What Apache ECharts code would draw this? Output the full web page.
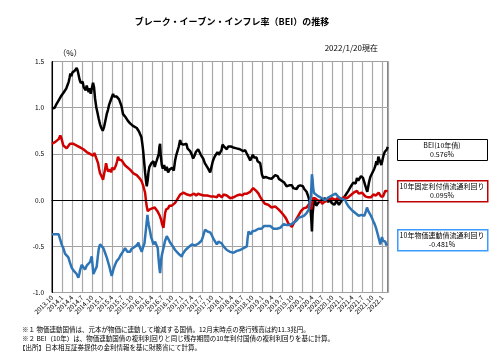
<!DOCTYPE html>
<html><head><meta charset="utf-8">
<script src="https://cdn.jsdelivr.net/npm/echarts@6/dist/echarts.min.js"></script>
<style>html,body{margin:0;padding:0;background:#fff}#c{width:500px;height:363px}</style>
</head><body><div id="c"></div>
<script>
// x = months since 2013/10/1
const beiData = [[0,0.99],[0.4,0.97],[0.8,1.00],[1.2,1.03],[1.6,1.05],[2.0,1.08],[2.4,1.10],[2.8,1.13],[3.2,1.12],[3.6,1.17],[3.9,1.16],[4.3,1.21],[4.6,1.19],[5.0,1.28],[5.3,1.33],[5.5,1.37],[5.8,1.34],[6.1,1.38],[6.5,1.36],[6.8,1.40],[7.1,1.39],[7.4,1.43],[7.7,1.40],[8.0,1.38],[8.3,1.30],[8.6,1.27],[8.9,1.25],[9.2,1.28],[9.5,1.22],[9.8,1.24],[10.1,1.19],[10.4,1.24],[10.7,1.20],[11.0,1.17],[11.3,1.21],[11.6,1.15],[12.0,1.22],[12.3,1.27],[12.6,1.22],[12.9,1.10],[13.3,1.00],[13.6,0.95],[14.0,0.88],[14.4,0.82],[14.8,0.78],[15.2,0.75],[15.6,0.79],[16.0,0.86],[16.4,0.93],[16.8,0.98],[17.1,1.03],[17.5,1.07],[17.9,1.11],[18.3,1.15],[18.6,1.12],[19.0,1.14],[19.4,1.12],[19.8,1.13],[20.1,1.09],[20.4,1.08],[20.8,1.02],[21.3,0.93],[21.7,0.95],[22.0,0.90],[22.4,0.88],[22.7,0.86],[23.1,0.87],[23.4,0.83],[23.9,0.85],[24.4,0.80],[24.9,0.82],[25.4,0.78],[25.8,0.79],[26.1,0.74],[26.4,0.72],[26.8,0.68],[27.1,0.60],[27.3,0.54],[27.6,0.42],[27.9,0.30],[28.2,0.20],[28.4,0.15],[28.7,0.22],[28.9,0.30],[29.2,0.36],[29.5,0.34],[29.8,0.40],[30.1,0.38],[30.4,0.42],[30.8,0.36],[31.1,0.40],[31.4,0.43],[31.7,0.45],[32.0,0.50],[32.2,0.58],[32.4,0.61],[32.6,0.48],[32.9,0.38],[33.2,0.34],[33.6,0.38],[34.0,0.32],[34.4,0.36],[34.8,0.30],[35.2,0.33],[35.6,0.31],[36.0,0.35],[36.5,0.32],[36.9,0.43],[37.2,0.48],[37.6,0.53],[38.0,0.58],[38.4,0.65],[38.7,0.61],[39.0,0.63],[39.4,0.60],[39.9,0.59],[40.3,0.61],[40.6,0.56],[41.0,0.57],[41.4,0.53],[41.8,0.50],[42.3,0.45],[42.7,0.48],[43.1,0.52],[43.5,0.50],[43.8,0.55],[44.2,0.52],[44.6,0.49],[45.0,0.47],[45.3,0.45],[45.8,0.40],[46.3,0.38],[46.8,0.34],[47.1,0.33],[47.4,0.30],[47.8,0.36],[48.2,0.42],[48.5,0.45],[48.9,0.48],[49.3,0.46],[49.6,0.52],[50.0,0.49],[50.4,0.50],[50.8,0.54],[51.1,0.60],[51.4,0.62],[51.8,0.57],[52.1,0.59],[52.4,0.55],[52.8,0.58],[53.2,0.60],[53.6,0.58],[53.9,0.59],[54.3,0.57],[54.8,0.58],[55.3,0.56],[55.8,0.57],[56.3,0.55],[56.8,0.56],[57.3,0.53],[57.9,0.54],[58.3,0.51],[58.6,0.50],[59.0,0.46],[59.4,0.43],[59.8,0.46],[60.2,0.49],[60.6,0.46],[60.9,0.48],[61.3,0.46],[61.6,0.42],[62.0,0.44],[62.4,0.40],[62.7,0.33],[62.9,0.28],[63.3,0.24],[63.7,0.26],[64.0,0.25],[64.4,0.27],[64.8,0.24],[65.2,0.26],[65.8,0.23],[66.3,0.25],[66.9,0.27],[67.3,0.25],[67.6,0.26],[68.0,0.23],[68.4,0.24],[68.8,0.21],[69.2,0.22],[69.6,0.19],[69.9,0.18],[70.3,0.15],[70.8,0.13],[71.1,0.16],[71.5,0.14],[71.9,0.16],[72.3,0.13],[72.8,0.15],[73.3,0.12],[73.8,0.15],[74.4,0.16],[74.8,0.14],[75.2,0.15],[75.6,0.12],[75.9,0.13],[76.3,0.09],[76.8,0.04],[77.1,0.00],[77.4,-0.06],[77.7,-0.20],[77.9,-0.34],[78.1,-0.15],[78.4,-0.04],[78.7,0.02],[78.9,-0.01],[79.2,-0.06],[79.4,-0.07],[79.8,-0.03],[80.3,-0.04],[80.8,0.00],[81.3,-0.01],[81.8,0.02],[82.3,0.01],[82.8,-0.02],[83.4,0.00],[83.8,-0.03],[84.2,-0.02],[84.6,-0.05],[84.9,-0.04],[85.3,-0.01],[85.6,-0.02],[86.0,-0.05],[86.4,-0.03],[86.9,0.00],[87.4,0.02],[87.9,0.05],[88.4,0.07],[88.8,0.10],[89.2,0.12],[89.6,0.15],[89.9,0.16],[90.3,0.19],[90.6,0.20],[91.0,0.18],[91.4,0.24],[91.8,0.21],[92.2,0.23],[92.6,0.26],[92.9,0.27],[93.2,0.24],[93.4,0.22],[93.7,0.18],[93.9,0.16],[94.2,0.12],[94.5,0.09],[94.8,0.15],[95.0,0.19],[95.4,0.25],[95.8,0.28],[96.2,0.31],[96.6,0.34],[96.9,0.37],[97.2,0.42],[97.5,0.38],[97.8,0.47],[98.1,0.44],[98.4,0.43],[98.7,0.38],[98.9,0.41],[99.2,0.46],[99.4,0.49],[99.7,0.52],[99.9,0.54],[100.2,0.51],[100.4,0.55],[100.6,0.576]];
const fixedData = [[0,0.61],[0.5,0.60],[1.0,0.63],[1.5,0.64],[2.0,0.66],[2.5,0.70],[2.8,0.67],[3.1,0.63],[3.4,0.59],[3.9,0.58],[4.4,0.56],[4.9,0.58],[5.4,0.61],[5.9,0.63],[6.3,0.61],[6.8,0.62],[7.4,0.59],[7.9,0.60],[8.4,0.57],[8.9,0.56],[9.4,0.55],[9.9,0.53],[10.4,0.52],[10.9,0.53],[11.4,0.50],[11.9,0.51],[12.3,0.48],[12.7,0.51],[13.1,0.47],[13.4,0.45],[13.8,0.40],[14.1,0.34],[14.4,0.29],[14.8,0.26],[15.1,0.24],[15.3,0.22],[15.6,0.28],[15.9,0.33],[16.2,0.40],[16.5,0.35],[16.8,0.31],[17.1,0.29],[17.4,0.33],[17.7,0.30],[18.0,0.35],[18.2,0.37],[18.6,0.33],[18.9,0.32],[19.2,0.38],[19.5,0.42],[19.8,0.47],[20.1,0.44],[20.4,0.46],[20.9,0.43],[21.3,0.41],[21.8,0.38],[22.4,0.36],[22.9,0.34],[23.4,0.33],[23.9,0.31],[24.4,0.29],[24.9,0.28],[25.4,0.27],[25.9,0.25],[26.4,0.23],[26.9,0.20],[27.3,0.16],[27.6,0.12],[27.9,0.08],[28.2,-0.02],[28.4,-0.07],[28.7,-0.12],[28.9,-0.14],[29.3,-0.10],[29.6,-0.12],[30.0,-0.09],[30.4,-0.11],[30.8,-0.08],[31.2,-0.10],[31.6,-0.12],[31.9,-0.14],[32.3,-0.17],[32.7,-0.21],[33.0,-0.26],[33.4,-0.30],[33.7,-0.20],[33.9,-0.14],[34.2,-0.10],[34.4,-0.08],[34.8,-0.09],[35.2,-0.06],[35.6,-0.08],[35.9,-0.06],[36.4,-0.04],[36.9,-0.03],[37.4,-0.01],[37.9,0.03],[38.4,0.06],[38.9,0.05],[39.4,0.08],[39.9,0.08],[40.5,0.06],[41.0,0.07],[41.5,0.05],[42.0,0.05],[42.6,0.07],[43.2,0.05],[43.8,0.07],[44.4,0.06],[44.9,0.08],[45.5,0.05],[46.0,0.04],[46.5,0.05],[47.0,0.03],[47.5,0.04],[47.9,0.02],[48.4,0.04],[48.9,0.05],[49.4,0.03],[49.9,0.06],[50.4,0.05],[50.9,0.03],[51.4,0.06],[51.9,0.07],[52.4,0.05],[52.9,0.03],[53.4,0.02],[53.9,0.00],[54.4,0.03],[54.9,0.02],[55.4,0.05],[55.8,0.04],[56.4,0.06],[57.0,0.05],[57.6,0.07],[58.4,0.07],[58.9,0.08],[59.4,0.09],[59.9,0.11],[60.3,0.13],[60.8,0.11],[61.2,0.10],[61.6,0.08],[61.9,0.07],[62.3,0.04],[62.6,0.02],[63.0,0.00],[63.3,-0.02],[63.8,-0.04],[64.3,-0.03],[64.8,-0.05],[65.3,-0.07],[65.8,-0.08],[66.3,-0.06],[66.9,-0.07],[67.4,-0.09],[67.9,-0.10],[68.4,-0.12],[68.9,-0.14],[69.4,-0.16],[69.8,-0.18],[70.3,-0.21],[70.8,-0.25],[71.3,-0.27],[71.9,-0.29],[72.3,-0.26],[72.6,-0.24],[73.0,-0.22],[73.4,-0.21],[73.8,-0.17],[74.2,-0.15],[74.6,-0.12],[74.9,-0.11],[75.4,-0.09],[75.9,-0.10],[76.3,-0.08],[76.7,-0.07],[77.1,-0.04],[77.4,-0.03],[77.7,-0.10],[77.9,-0.06],[78.2,0.02],[78.4,0.04],[78.8,0.02],[79.2,0.01],[79.5,0.00],[79.9,-0.02],[80.5,-0.01],[81.0,-0.04],[81.6,-0.02],[82.2,-0.01],[82.8,0.01],[83.4,0.01],[84.0,0.02],[84.5,0.00],[84.9,0.00],[85.5,0.02],[86.0,0.01],[86.4,0.00],[86.9,0.02],[87.4,0.03],[87.9,0.01],[88.4,0.02],[88.9,0.04],[89.4,0.05],[89.9,0.07],[90.4,0.08],[90.9,0.09],[91.4,0.10],[91.9,0.07],[92.4,0.06],[92.9,0.08],[93.4,0.07],[93.9,0.04],[94.4,0.02],[94.8,0.03],[95.2,0.05],[95.6,0.03],[95.9,0.04],[96.3,0.06],[96.7,0.07],[97.1,0.05],[97.5,0.06],[97.9,0.08],[98.2,0.07],[98.6,0.04],[98.9,0.02],[99.2,0.04],[99.5,0.06],[99.9,0.10],[100.3,0.08],[100.6,0.095]];
const linkedData = [[0,-0.37],[0.5,-0.36],[1.0,-0.37],[1.5,-0.35],[2.0,-0.37],[2.4,-0.42],[2.9,-0.48],[3.4,-0.52],[3.9,-0.58],[4.4,-0.60],[4.9,-0.62],[5.4,-0.68],[5.9,-0.73],[6.4,-0.76],[6.9,-0.78],[7.4,-0.80],[7.9,-0.84],[8.2,-0.80],[8.4,-0.76],[8.9,-0.70],[9.4,-0.72],[9.9,-0.75],[10.4,-0.71],[10.9,-0.70],[11.4,-0.67],[11.9,-0.61],[12.2,-0.72],[12.4,-0.80],[12.9,-0.76],[13.4,-0.72],[13.7,-0.62],[14.0,-0.53],[14.4,-0.48],[14.9,-0.50],[15.4,-0.52],[15.9,-0.57],[16.4,-0.62],[16.8,-0.67],[17.2,-0.72],[17.6,-0.78],[17.9,-0.82],[18.2,-0.78],[18.4,-0.75],[18.9,-0.70],[19.4,-0.66],[19.8,-0.64],[20.1,-0.63],[20.5,-0.60],[20.9,-0.58],[21.4,-0.55],[21.9,-0.52],[22.3,-0.54],[22.6,-0.56],[23.0,-0.54],[23.4,-0.56],[23.8,-0.53],[24.2,-0.54],[24.6,-0.51],[24.9,-0.52],[25.4,-0.49],[25.9,-0.46],[26.2,-0.50],[26.4,-0.52],[26.9,-0.56],[27.2,-0.52],[27.4,-0.50],[27.7,-0.47],[27.9,-0.45],[28.2,-0.30],[28.6,-0.16],[28.8,-0.22],[29.0,-0.27],[29.4,-0.34],[29.7,-0.40],[30.0,-0.43],[30.4,-0.48],[30.9,-0.45],[31.4,-0.44],[31.7,-0.52],[31.9,-0.62],[32.2,-0.74],[32.4,-0.79],[32.7,-0.65],[32.9,-0.60],[33.4,-0.52],[33.9,-0.44],[34.4,-0.39],[34.7,-0.40],[35.0,-0.43],[35.4,-0.46],[35.8,-0.48],[36.2,-0.50],[36.6,-0.52],[36.9,-0.54],[37.4,-0.56],[37.9,-0.58],[38.4,-0.59],[38.9,-0.61],[39.2,-0.58],[39.6,-0.56],[40.0,-0.54],[40.4,-0.52],[40.9,-0.51],[41.4,-0.50],[41.9,-0.48],[42.4,-0.46],[42.9,-0.49],[43.4,-0.50],[43.9,-0.47],[44.4,-0.48],[44.8,-0.44],[45.2,-0.40],[45.6,-0.35],[45.9,-0.32],[46.3,-0.33],[46.6,-0.34],[47.0,-0.32],[47.4,-0.35],[47.9,-0.38],[48.4,-0.42],[48.9,-0.45],[49.4,-0.48],[49.9,-0.45],[50.4,-0.44],[50.9,-0.47],[51.4,-0.50],[51.9,-0.52],[52.4,-0.54],[52.9,-0.55],[53.4,-0.56],[53.9,-0.57],[54.4,-0.57],[54.9,-0.56],[55.4,-0.55],[55.9,-0.55],[56.4,-0.54],[56.9,-0.53],[57.4,-0.52],[57.9,-0.51],[58.4,-0.50],[58.6,-0.42],[58.9,-0.34],[59.2,-0.36],[59.6,-0.37],[60.0,-0.34],[60.4,-0.35],[60.9,-0.33],[61.4,-0.32],[61.9,-0.31],[62.4,-0.30],[62.8,-0.31],[63.2,-0.29],[63.6,-0.28],[63.9,-0.27],[64.4,-0.28],[64.9,-0.29],[65.4,-0.28],[65.9,-0.30],[66.4,-0.31],[66.9,-0.33],[67.4,-0.31],[67.9,-0.32],[68.4,-0.30],[68.9,-0.28],[69.4,-0.26],[69.9,-0.25],[70.3,-0.27],[70.6,-0.29],[71.0,-0.27],[71.4,-0.28],[71.8,-0.26],[72.2,-0.25],[72.6,-0.24],[72.9,-0.23],[73.3,-0.22],[73.6,-0.21],[74.0,-0.19],[74.4,-0.17],[74.8,-0.18],[75.1,-0.18],[75.5,-0.17],[75.9,-0.16],[76.3,-0.14],[76.6,-0.12],[77.0,-0.10],[77.4,-0.08],[77.6,0.05],[77.8,0.20],[77.9,0.28],[78.1,0.22],[78.3,0.12],[78.5,0.08],[78.8,0.07],[79.1,0.06],[79.5,0.05],[79.9,0.04],[80.4,0.03],[80.9,0.02],[81.4,0.01],[81.9,0.00],[82.4,0.02],[82.9,0.03],[83.4,0.04],[83.9,0.05],[84.4,0.06],[85.0,0.07],[85.4,0.05],[85.7,0.04],[86.1,0.03],[86.4,0.02],[86.8,0.01],[87.2,0.01],[87.6,0.00],[87.9,0.00],[88.2,-0.03],[88.4,-0.05],[88.9,-0.07],[89.4,-0.09],[89.9,-0.11],[90.4,-0.13],[90.9,-0.14],[91.4,-0.15],[91.9,-0.17],[92.4,-0.18],[92.8,-0.16],[93.2,-0.15],[93.6,-0.17],[93.9,-0.16],[94.2,-0.11],[94.4,-0.08],[94.8,-0.12],[95.2,-0.14],[95.6,-0.17],[95.9,-0.19],[96.3,-0.23],[96.7,-0.26],[97.1,-0.30],[97.4,-0.34],[97.7,-0.38],[97.9,-0.41],[98.2,-0.45],[98.4,-0.48],[98.7,-0.43],[98.9,-0.40],[99.2,-0.44],[99.4,-0.46],[99.7,-0.44],[99.9,-0.45],[100.2,-0.49],[100.4,-0.47],[100.6,-0.481]];
const yTicks = {min: -1.0, max: 1.5, step: 0.5};
const xTicks = {min: 0, max: 100.7, step: 3, startYear: 2013, startMonth: 10};
const legendTexts = [['BEI(10年債)', '0.576%'], ['10年固定利付債流通利回り', '0.095%'], ['10年物価連動債流通利回り', '-0.481%']];
const notes = ['※１ 物価連動国債は、元本が物価に連動して増減する国債。12月末時点の発行残高は約11.3兆円。',
  '※２ BEI（10年）は、物価連動国債の複利利回りと同じ残存期間の10年利付国債の複利利回りを基に計算。',
  '【出所】日本相互証券提供の金利情報を基に財務省にて計算。'];

const JP = '"Noto Sans CJK JP", sans-serif';
const chart = echarts.init(document.getElementById('c'), null, {renderer: 'canvas'});
function xLabel(v) {
  const t = xTicks.startMonth - 1 + Math.round(v);
  return (xTicks.startYear + Math.floor(t / 12)) + '.' + (t % 12 + 1);
}
const boxColors = ['#000000', '#c00000', '#3d9bff'];
const boxTops = [139, 180, 229];
const graphics = [];
legendTexts.forEach((lt, i) => {
  graphics.push({type: 'rect', left: 397, top: boxTops[i], shape: {width: 90, height: 21},
    style: {fill: '#fff', stroke: boxColors[i], lineWidth: i === 0 ? 1 : 1.5}});
  graphics.push({type: 'text', x: 442, y: boxTops[i] + 6, style: {text: lt[0], fill: '#000', font: '7px ' + JP, textAlign: 'center', textVerticalAlign: 'middle'}});
  graphics.push({type: 'text', x: 442, y: boxTops[i] + 15, style: {text: lt[1], fill: '#000', font: '7px ' + JP, textAlign: 'center', textVerticalAlign: 'middle'}});
});
notes.forEach((n, i) => {
  graphics.push({type: 'text', x: i === 2 ? 19 : 22, y: 330 + i * 8.7, style: {text: n, fill: '#000', font: '6.5px ' + JP, textVerticalAlign: 'middle'}});
});
graphics.push({type: 'text', x: 232, y: 22, style: {text: 'ブレーク・イーブン・インフレ率（BEI）の推移', fill: '#000', font: 'bold 9px ' + JP, textAlign: 'center', textVerticalAlign: 'middle'}});
graphics.push({type: 'text', x: 378, y: 48, style: {text: '2022/1/20現在', fill: '#000', font: '8px ' + JP, textAlign: 'right', textVerticalAlign: 'middle'}});
graphics.push({type: 'text', x: 70, y: 53, style: {text: '（%）', fill: '#000', font: '8px ' + JP, textAlign: 'center', textVerticalAlign: 'middle'}});

const mkSeries = (name, data, color, extra) => Object.assign({
  name, type: 'line', data, showSymbol: false, symbol: 'none', animation: false,
  lineStyle: {color, width: 2.5}, itemStyle: {color}
}, extra || {});

chart.setOption({
  animation: false,
  backgroundColor: '#fff',
  grid: {left: 52, right: 112, top: 61.5, bottom: 70.5, show: true, borderColor: '#000', borderWidth: 1, backgroundColor: 'transparent'},
  xAxis: {
    type: 'value', min: xTicks.min, max: xTicks.max, interval: xTicks.step,
    axisLine: {show: true, lineStyle: {color: '#000'}}, axisTick: {show: false},
    splitLine: {show: true, lineStyle: {color: '#a8a8a8', width: 1.2}},
    axisLabel: {rotate: 45, fontSize: 6.5, color: '#000', fontFamily: JP, margin: 4, showMaxLabel: false, formatter: xLabel}
  },
  yAxis: {
    type: 'value', min: yTicks.min, max: yTicks.max, interval: yTicks.step,
    axisLine: {show: true, lineStyle: {color: '#000'}}, axisTick: {show: false},
    splitLine: {show: true, lineStyle: {color: '#a0a0a0', width: 1}},
    axisLabel: {fontSize: 6.5, color: '#000', fontFamily: JP, margin: 8, formatter: v => v.toFixed(1)}
  },
  series: [
    mkSeries('BEI', beiData, '#000000', {z: 3, markLine: {silent: true, symbol: 'none', label: {show: false}, lineStyle: {color: '#000', width: 1, type: 'solid'}, data: [{yAxis: 0}], animation: false}}),
    mkSeries('fixed', fixedData, '#d00000', {z: 4}),
    mkSeries('linked', linkedData, '#2e75b6', {z: 5})
  ],
  graphic: graphics
});
</script></body></html>
